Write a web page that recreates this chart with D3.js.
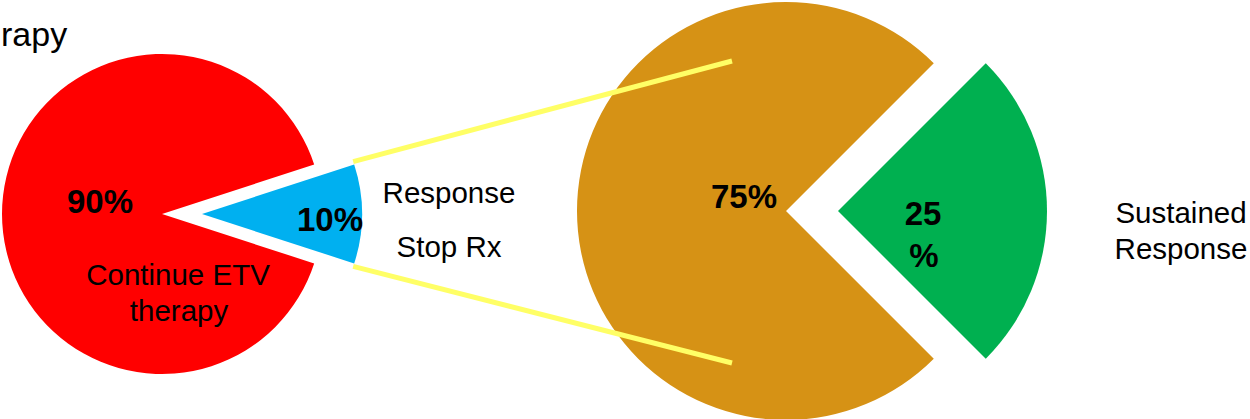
<!DOCTYPE html>
<html>
<head>
<meta charset="utf-8">
<script src="https://cdn.jsdelivr.net/npm/d3@7/dist/d3.min.js"></script>
<style>
  html, body { margin: 0; padding: 0; background: #fff; }
  svg { display: block; font-family: "Liberation Sans", Arial, sans-serif; }
</style>
</head>
<body>
<svg id="chart" width="1250" height="419"></svg>
<script>
// ---- data ----
const leftCategories = ["Response Stop Rx", "Continue ETV therapy"];
const leftValues = [10, 90];
const leftLabels = ["10%", "90%"];
const rightCategories = ["Sustained Response", "Relapse"];
const rightValues = [25, 75];
const rightLabels = [["25", "%"], ["75%"]];
const leftColors = ["#00B0F0", "#FF0000"];
const rightColors = ["#00B050", "#D69215"];

const svg = d3.select("#chart");
const deg = Math.PI / 180;

// ---- left pie ----
const L = { cx: 162, cy: 214, r: 160, explode: 40 };
const leftPie = d3.pie().sort(null)
  .startAngle(90 * deg - (leftValues[0] / 100) * Math.PI)
  .endAngle(90 * deg - (leftValues[0] / 100) * Math.PI + 2 * Math.PI);
const leftArcs = leftPie(leftValues);
const arcL = d3.arc().innerRadius(0).outerRadius(L.r);
const gL = svg.append("g");
leftArcs.forEach((a, i) => {
  const mid = (a.startAngle + a.endAngle) / 2;
  const off = i === 0 ? L.explode : 0;
  const dx = Math.sin(mid) * off, dy = -Math.cos(mid) * off;
  gL.append("path")
    .attr("transform", `translate(${L.cx + dx},${L.cy + dy})`)
    .attr("d", arcL(a))
    .attr("fill", leftColors[i]);
});

// ---- right pie ----
const R = { cx: 786, cy: 211, r: 209, explode: 52 };
const rightPie = d3.pie().sort(null)
  .startAngle(90 * deg - (rightValues[0] / 100) * Math.PI)
  .endAngle(90 * deg - (rightValues[0] / 100) * Math.PI + 2 * Math.PI);
const rightArcs = rightPie(rightValues);
const arcR = d3.arc().innerRadius(0).outerRadius(R.r);
const gR = svg.append("g");
rightArcs.forEach((a, i) => {
  const mid = (a.startAngle + a.endAngle) / 2;
  const off = i === 0 ? R.explode : 0;
  const dx = Math.sin(mid) * off, dy = -Math.cos(mid) * off;
  gR.append("path")
    .attr("transform", `translate(${R.cx + dx},${R.cy + dy})`)
    .attr("d", arcR(a))
    .attr("fill", rightColors[i]);
});

// ---- connector lines (from exploded blue slice corners into the right pie) ----
const b = leftArcs[0];
const bcx = L.cx + L.explode;
const corner = (ang) => [bcx + Math.sin(ang) * L.r - 1, L.cy - Math.cos(ang) * L.r];
const c1 = corner(b.startAngle), c2 = corner(b.endAngle);
const lines = [
  [[c1[0], c1[1] - 3], [R.cx - 54, R.cy - 150]],
  [[c2[0], c2[1] + 3], [R.cx - 54, R.cy + 152]]
];
lines.forEach(p => {
  svg.append("line")
    .attr("x1", p[0][0]).attr("y1", p[0][1])
    .attr("x2", p[1][0]).attr("y2", p[1][1])
    .attr("stroke", "#FFFF66").attr("stroke-width", 5);
});

// ---- text ----
function txt(x, y, s, size, weight, anchor) {
  svg.append("text").attr("x", x).attr("y", y)
    .attr("font-size", size).attr("font-weight", weight || "normal")
    .attr("text-anchor", anchor || "middle").attr("fill", "#000").text(s);
}
txt(1, 46, "rapy", 34, "normal", "start");
txt(100, 213, leftLabels[1], 33, "bold");
txt(330, 231, leftLabels[0], 33, "bold");
txt(178, 285, "Continue ETV", 29.5);
txt(179, 321, "therapy", 29.5);
txt(449, 203, "Response", 29.5);
txt(449, 257, "Stop Rx", 29.5);
txt(744, 208, rightLabels[1][0], 33, "bold");
txt(923, 225, rightLabels[0][0], 33, "bold");
txt(924, 267, rightLabels[0][1], 33, "bold");
txt(1181, 223, "Sustained", 29.5);
txt(1181, 259, "Response", 29.5);
</script>
</body>
</html>
